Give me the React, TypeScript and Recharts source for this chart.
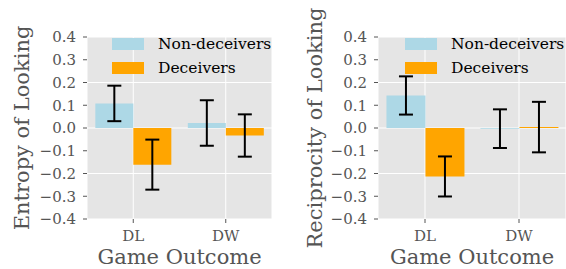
import React from 'react';
import { BarChart, Bar, XAxis, YAxis, CartesianGrid, ErrorBar, Legend, Label } from 'recharts';

const categories = ['DL', 'DW'];
const seriesNames = ['Non-deceivers', 'Deceivers'];
const yTicks = [-0.4, -0.3, -0.2, -0.1, 0, 0.1, 0.2, 0.3, 0.4];

const entropyNon = [0.108, 0.022];
const entropyNonErr = [0.078, 0.1];
const entropyDec = [-0.161, -0.033];
const entropyDecErr = [0.11, 0.093];

const reciprocityNon = [0.143, -0.003];
const reciprocityNonErr = [0.084, 0.085];
const reciprocityDec = [-0.213, 0.004];
const reciprocityDecErr = [0.088, 0.111];

const FONT = '"DejaVu Serif", serif';
const GRAY = '#555555';
const COLORS = ['#ADD8E6', '#FFA500'];

const buildRows = (non: number[], nonErr: number[], dec: number[], decErr: number[]) =>
  categories.map((c, i) => ({ cat: c, non: non[i], nonErr: nonErr[i], dec: dec[i], decErr: decErr[i] }));

const fmt = (v: number) => (v < -1e-9 ? '\u2212' : '') + Math.abs(v).toFixed(1);

const renderLegend = (props: any) => {
  const payload = [...(props.payload || [])].sort(
    (a: any, b: any) => seriesNames.indexOf(a.value) - seriesNames.indexOf(b.value)
  );
  return (
    <div>
      {payload.map((p: any, i: number) => (
        <div key={i} style={{ display: 'flex', alignItems: 'center', height: 24 }}>
          <span style={{ width: 32, height: 12, background: p.color, display: 'inline-block' }} />
          <span style={{ marginLeft: 14, fontFamily: FONT, fontSize: 15.5, color: '#000', whiteSpace: 'nowrap' }}>
            {p.value}
          </span>
        </div>
      ))}
    </div>
  );
};

type PanelProps = {
  rows: any[];
  yLabel: string;
  left: number;
  marginLeft: number;
  marginRight: number;
  legendLeft: number;
  yLabelX: number;
};

const Panel = ({ rows, yLabel, left, marginLeft, marginRight, legendLeft, yLabelX }: PanelProps) => (
  <div style={{ position: 'absolute', left, top: 0 }}>
    <BarChart
      width={283}
      height={269}
      data={rows}
      margin={{ top: 37, right: marginRight, bottom: 20, left: marginLeft }}
      barCategoryGap="9%"
      barGap={0}
    >
      <CartesianGrid fill="#E5E5E5" stroke="#FFFFFF" strokeWidth={1} />
      <XAxis
        dataKey="cat"
        height={30}
        axisLine={false}
        tickLine={{ stroke: GRAY }}
        tickSize={4}
        tickMargin={7}
        tick={{ fontFamily: FONT, fontSize: 15, fill: GRAY }}
      >
        <Label
          content={(p: any) => {
            const vb = p.viewBox || {};
            return (
              <text x={vb.x + vb.width / 2} y={264} textAnchor="middle" fontFamily={FONT} fontSize={21} fill={GRAY}>
                Game Outcome
              </text>
            );
          }}
        />
      </XAxis>
      <YAxis
        width={60}
        domain={[-0.4, 0.4]}
        ticks={yTicks}
        allowDataOverflow
        axisLine={false}
        tickLine={{ stroke: GRAY }}
        tickSize={4}
        tickMargin={7}
        tickFormatter={fmt}
        tick={{ fontFamily: FONT, fontSize: 15, fill: GRAY }}
      >
        <Label
          content={() => (
            <text
              x={yLabelX}
              y={128}
              transform={`rotate(-90, ${yLabelX}, 128)`}
              textAnchor="middle"
              fontFamily={FONT}
              fontSize={21}
              fill={GRAY}
            >
              {yLabel}
            </text>
          )}
        />
      </YAxis>
      <Legend
        layout="vertical"
        align="center"
        verticalAlign="middle"
        content={renderLegend}
        wrapperStyle={{ top: 32, left: legendLeft, width: 'auto' }}
      />
      <Bar dataKey="non" name={seriesNames[0]} fill={COLORS[0]} isAnimationActive={false}>
        <ErrorBar dataKey="nonErr" width={7} strokeWidth={2} stroke="#000" isAnimationActive={false} />
      </Bar>
      <Bar dataKey="dec" name={seriesNames[1]} fill={COLORS[1]} isAnimationActive={false}>
        <ErrorBar dataKey="decErr" width={7} strokeWidth={2} stroke="#000" isAnimationActive={false} />
      </Bar>
    </BarChart>
  </div>
);

export default function App() {
  const entropyRows = buildRows(entropyNon, entropyNonErr, entropyDec, entropyDecErr);
  const reciprocityRows = buildRows(reciprocityNon, reciprocityNonErr, reciprocityDec, reciprocityDecErr);
  return (
    <div style={{ position: 'absolute', left: 0, top: 0, width: 566, height: 269, overflow: 'hidden', background: '#fff' }}>
      <Panel rows={entropyRows} yLabel="Entropy of Looking" left={0} marginLeft={27} marginRight={11} legendLeft={112} yLabelX={29} />
      <Panel rows={reciprocityRows} yLabel="Reciprocity of Looking" left={283} marginLeft={35} marginRight={0} legendLeft={122} yLabelX={39} />
    </div>
  );
}
